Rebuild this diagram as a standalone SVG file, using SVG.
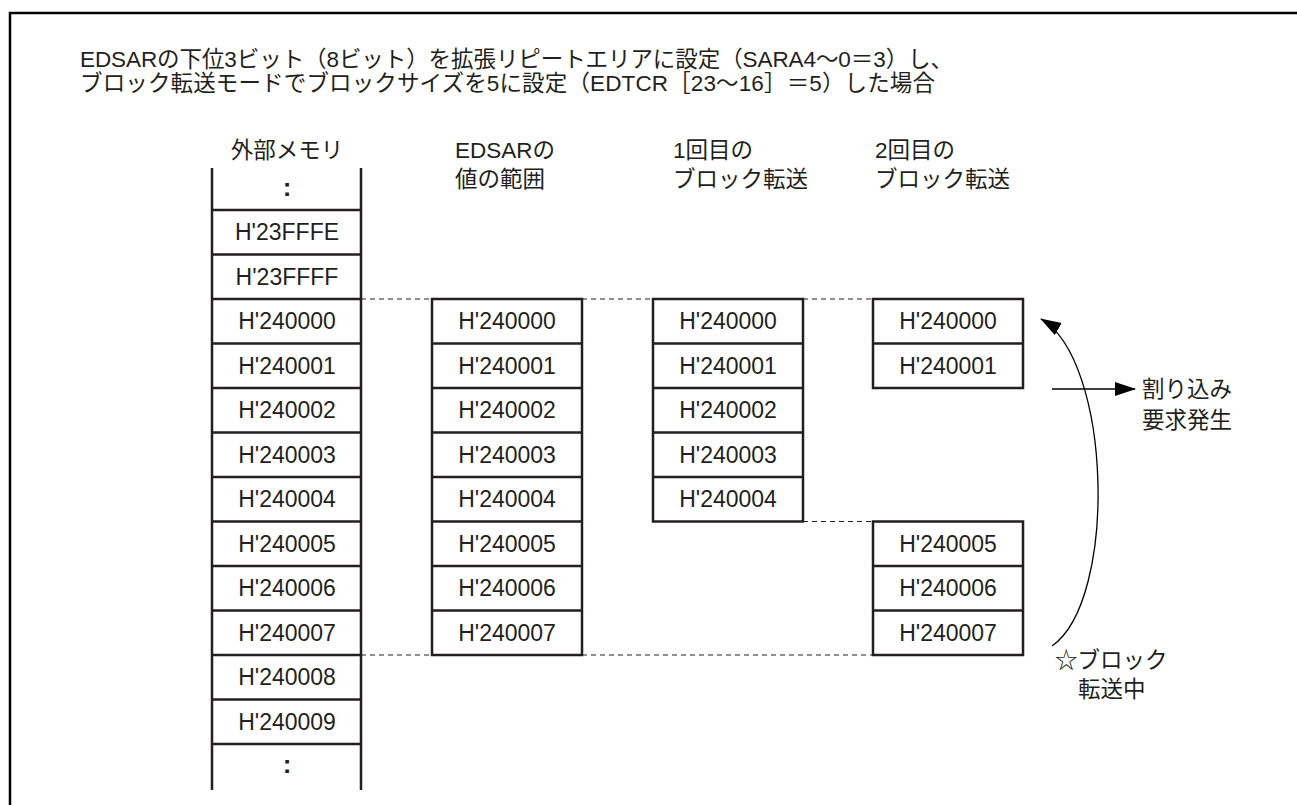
<svg xmlns="http://www.w3.org/2000/svg" width="1297" height="805" viewBox="0 0 1297 805">
<style>
text{font-family:"Liberation Sans","Noto Sans CJK JP",sans-serif;fill:#231f20}
.t{font-size:22.5px}
.h{font-size:22.5px}
.c{font-size:23px;text-anchor:middle}
.cell{fill:#fff;stroke:#231f20;stroke-width:2.5}
.ln{stroke:#231f20;stroke-width:2.5;fill:none}
.dash{stroke:#231f20;stroke-width:1;stroke-dasharray:5 4;fill:none}
.arr{stroke:#000;stroke-width:1.3;fill:none}
.dot{font-size:26px;font-weight:bold;text-anchor:middle}
</style>
<defs>
<marker id="ah" markerWidth="22" markerHeight="16" refX="20" refY="7" orient="auto" markerUnits="userSpaceOnUse">
<path d="M0,0 L21,7 L0,14 Z" fill="#000"/>
</marker>
</defs>
<path d="M10,805 V13 H1297" fill="none" stroke="#000" stroke-width="2.5"/>
<g id="title">
<text class="t" x="80" y="67" textLength="873" lengthAdjust="spacing">EDSARの下位3ビット（8ビット）を拡張リピートエリアに設定（SARA4～0＝3）し、</text>
<text class="t" x="80" y="91" textLength="855" lengthAdjust="spacing">ブロック転送モードでブロックサイズを5に設定（EDTCR［23～16］＝5）した場合</text>
</g>
<g id="headers">
<text class="h" x="287" y="158" text-anchor="middle">外部メモリ</text>
<text class="h" x="455" y="158">EDSARの</text>
<text class="h" x="455" y="187">値の範囲</text>
<text class="h" x="673" y="158">1回目の</text>
<text class="h" x="673" y="187">ブロック転送</text>
<text class="h" x="875" y="158">2回目の</text>
<text class="h" x="875" y="187">ブロック転送</text>
</g>
<g id="connectors">
<path class="dash" d="M361,299 H432 M582,299 H653 M803,299 H873 M803,521.5 H873 M361,655 H432 M582,655 H873"/>
<path class="arr" d="M1052,389 H1135" marker-end="url(#ah)"/>
<path class="arr" d="M1052,646 C1118,600 1112,360 1041,319" marker-end="url(#ah)"/>
</g>
<g id="memory">
<path class="ln" d="M212,168 V790 M361,168 V790 M212,210 H361 M212,254.5 H361 M212,299 H361 M212,343.5 H361 M212,388 H361 M212,432.5 H361 M212,477 H361 M212,521.5 H361 M212,566 H361 M212,610.5 H361 M212,655 H361 M212,699.5 H361 M212,744 H361"/>
<text class="dot" x="287" y="196">:</text>
<text class="c" x="287" y="240">H'23FFFE</text>
<text class="c" x="287" y="284.5">H'23FFFF</text>
<text class="c" x="287" y="329">H'240000</text>
<text class="c" x="287" y="373.5">H'240001</text>
<text class="c" x="287" y="418">H'240002</text>
<text class="c" x="287" y="462.5">H'240003</text>
<text class="c" x="287" y="507">H'240004</text>
<text class="c" x="287" y="551.5">H'240005</text>
<text class="c" x="287" y="596">H'240006</text>
<text class="c" x="287" y="640.5">H'240007</text>
<text class="c" x="287" y="685">H'240008</text>
<text class="c" x="287" y="729.5">H'240009</text>
<text class="dot" x="287" y="773">:</text>
</g>
<g id="edsar">
<rect class="cell" x="432" y="299" width="150" height="356"/>
<path class="ln" d="M432,343.5 H582 M432,388 H582 M432,432.5 H582 M432,477 H582 M432,521.5 H582 M432,566 H582 M432,610.5 H582"/>
<text class="c" x="507" y="329">H'240000</text>
<text class="c" x="507" y="373.5">H'240001</text>
<text class="c" x="507" y="418">H'240002</text>
<text class="c" x="507" y="462.5">H'240003</text>
<text class="c" x="507" y="507">H'240004</text>
<text class="c" x="507" y="551.5">H'240005</text>
<text class="c" x="507" y="596">H'240006</text>
<text class="c" x="507" y="640.5">H'240007</text>
</g>
<g id="block1">
<rect class="cell" x="653" y="299" width="150" height="222.5"/>
<path class="ln" d="M653,343.5 H803 M653,388 H803 M653,432.5 H803 M653,477 H803"/>
<text class="c" x="728" y="329">H'240000</text>
<text class="c" x="728" y="373.5">H'240001</text>
<text class="c" x="728" y="418">H'240002</text>
<text class="c" x="728" y="462.5">H'240003</text>
<text class="c" x="728" y="507">H'240004</text>
</g>
<g id="block2a">
<rect class="cell" x="873" y="299" width="150" height="89"/>
<path class="ln" d="M873,343.5 H1023"/>
<text class="c" x="948" y="329">H'240000</text>
<text class="c" x="948" y="373.5">H'240001</text>
</g>
<g id="block2b">
<rect class="cell" x="873" y="521.5" width="150" height="133.5"/>
<path class="ln" d="M873,566 H1023 M873,610.5 H1023"/>
<text class="c" x="948" y="551.5">H'240005</text>
<text class="c" x="948" y="596">H'240006</text>
<text class="c" x="948" y="640.5">H'240007</text>
</g>
<g id="label-interrupt">
<text class="h" x="1142" y="397">割り込み</text>
<text class="h" x="1142" y="428">要求発生</text>
</g>
<g id="label-transfer">
<text class="h" x="1055" y="668">☆ブロック</text>
<text class="h" x="1078" y="697">転送中</text>
</g>
</svg>
